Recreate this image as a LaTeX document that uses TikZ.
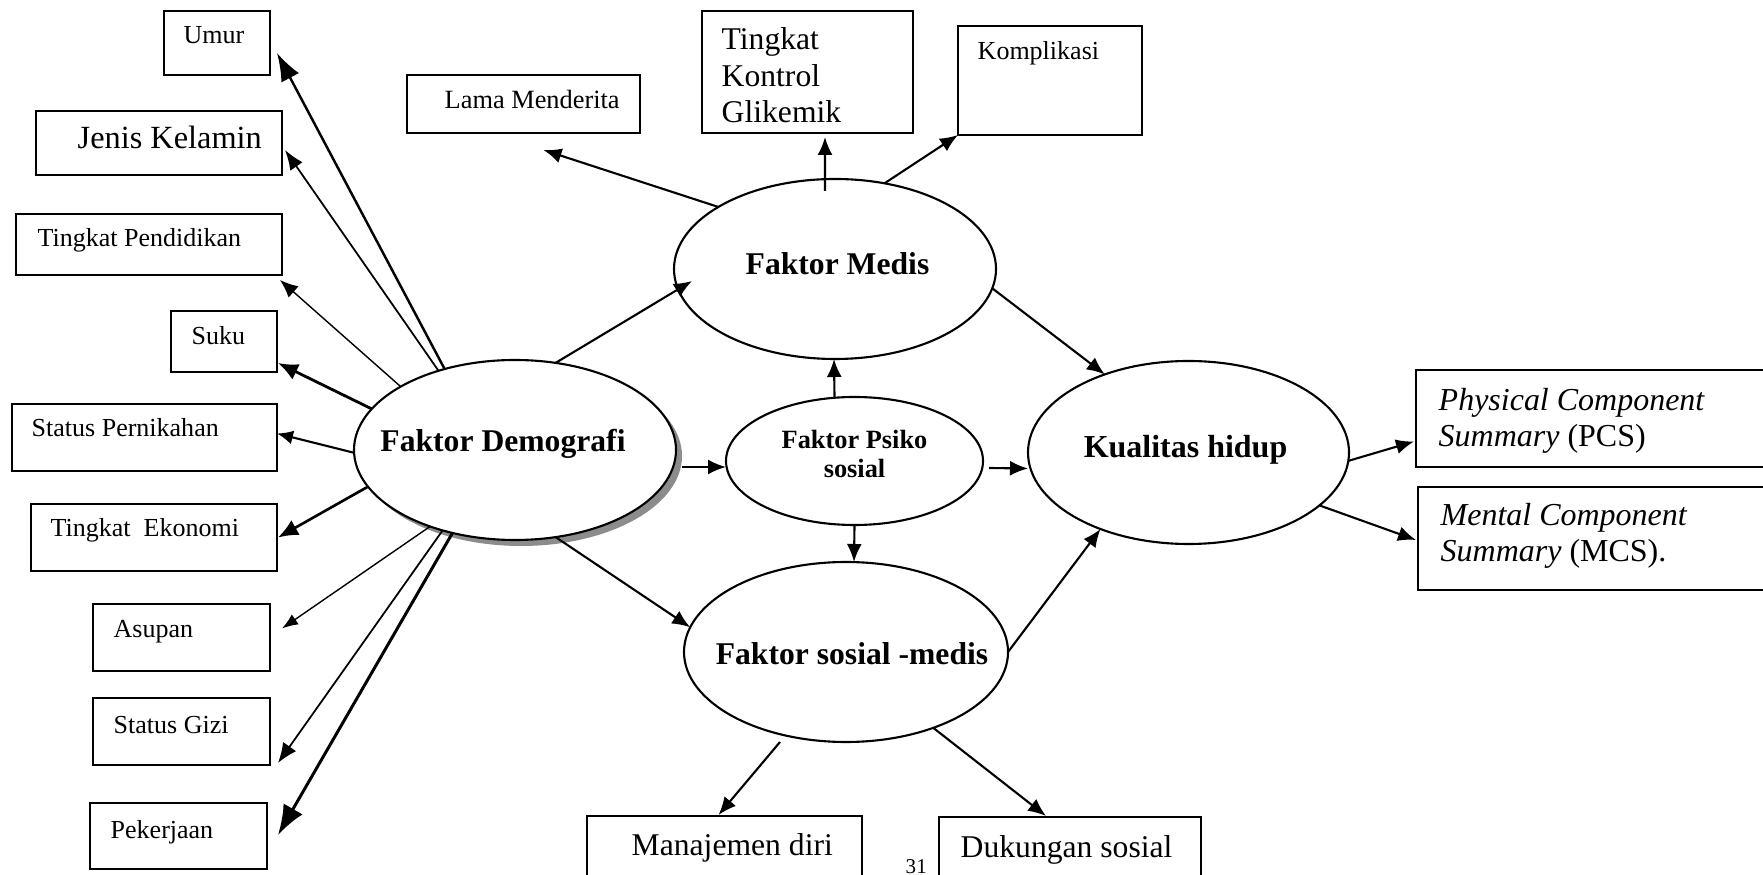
\documentclass[tikz,border=0pt]{standalone}
\usepackage{fontspec}
\setmainfont{Liberation Serif}
\usetikzlibrary{shapes.geometric,arrows.meta,shadows}

\begin{document}
\begin{tikzpicture}[x=0.1mm,y=-0.1mm,
  box/.style={draw,line width=0.55pt,inner sep=0pt,outer sep=0pt},
  oval/.style={draw,ellipse,fill=white,line width=0.6pt,inner sep=0pt,outer sep=0pt},
  txt/.style={anchor=base west,inner sep=0pt,font=\fontsize{7.4}{9}\selectfont},
  big/.style={anchor=base west,inner sep=0pt,align=left,font=\fontsize{9}{10.5}\selectfont},
  head/.style={anchor=base,inner sep=0pt,align=center,font=\bfseries\fontsize{9}{10.5}\selectfont},
  arr/.style={line width=0.6pt,-{Latex[length=1.8mm,width=1.5mm]}}]

\fill[white] (0,0) rectangle (1763,875);
\useasboundingbox (0,0) rectangle (1763,875);

\node[oval,minimum width=32.2mm,minimum height=18mm,
  drop shadow={shadow xshift=0.6mm,shadow yshift=-0.6mm,fill=black!45,opacity=1}] (demo) at (515,450) {};
\node[head] (demotxt) at ([shift={(-12,2)}]demo.center) {Faktor Demografi};

\node[oval,minimum width=32.2mm,minimum height=18mm] (medis) at (835,269) {};
\node[head] (medistxt) at ([shift={(2.5,6)}]medis.center) {Faktor Medis};

\node[oval,minimum width=25.7mm,minimum height=12.8mm] (psiko) at (854.5,461) {};
\node[head,font=\bfseries\fontsize{7.5}{8.5}\selectfont] (psikotxt) at ([shift={(0,17)}]psiko.center) {Faktor Psiko\\sosial};

\node[oval,minimum width=32.1mm,minimum height=18.3mm] (kualitas) at (1188.5,452.5) {};
\node[head,font=\bfseries\fontsize{9.1}{11}\selectfont] (kualitastxt) at ([shift={(-3,5.5)}]kualitas.center) {Kualitas hidup};

\node[oval,minimum width=32.4mm,minimum height=18mm] (sosmed) at (846,652) {};
\node[head] (sosmedtxt) at ([shift={(6,13)}]sosmed.center) {Faktor sosial -medis};

\node[box,minimum width=10.6mm,minimum height=6.4mm] (umur) at (217,43) {};
\node[txt] (umurtxt) at ([shift={(19,33)}]umur.north west) {Umur};
\node[box,minimum width=24.6mm,minimum height=6.4mm] (jenis) at (159,143) {};
\node[txt,font=\fontsize{9.2}{11}\selectfont] (jenistxt) at ([shift={(41,38)}]jenis.north west) {Jenis Kelamin};
\node[box,minimum width=26.6mm,minimum height=6.1mm] (pendidikan) at (149,244.5) {};
\node[txt] (pendidikantxt) at ([shift={(21,33)}]pendidikan.north west) {Tingkat Pendidikan};
\node[box,minimum width=10.6mm,minimum height=6.1mm] (suku) at (224,341.5) {};
\node[txt] (sukutxt) at ([shift={(20,34)}]suku.north west) {Suku};
\node[box,line width=0.75pt,minimum width=26.5mm,minimum height=6.7mm] (nikah) at (144.5,437.5) {};
\node[txt] (nikahtxt) at ([shift={(19,33)}]nikah.north west) {Status Pernikahan};
\node[box,minimum width=24.6mm,minimum height=6.7mm] (ekonomi) at (154,537.5) {};
\node[txt] (ekonomitxt) at ([shift={(19,33)}]ekonomi.north west) {Tingkat\ \ Ekonomi};
\node[box,minimum width=17.7mm,minimum height=6.7mm] (asupan) at (181.5,637.5) {};
\node[txt] (asupantxt) at ([shift={(20,34)}]asupan.north west) {Asupan};
\node[box,minimum width=17.7mm,minimum height=6.7mm] (gizi) at (181.5,731.5) {};
\node[txt] (gizitxt) at ([shift={(20,35)}]gizi.north west) {Status Gizi};
\node[box,line width=0.75pt,minimum width=17.7mm,minimum height=6.6mm] (kerja) at (178.5,836) {};
\node[txt] (kerjatxt) at ([shift={(20,35)}]kerja.north west) {Pekerjaan};

\node[box,minimum width=23.3mm,minimum height=5.8mm] (lama) at (523.5,104) {};
\node[txt,font=\fontsize{7.5}{9}\selectfont] (lamatxt) at ([shift={(37,34)}]lama.north west) {Lama Menderita};
\node[box,line width=0.75pt,minimum width=21.1mm,minimum height=12.2mm] (glikemik) at (807.5,72) {};
\node[big] (glikemiktxt) at ([shift={(19,112)}]glikemik.north west) {Tingkat\\Kontrol\\Glikemik};
\node[box,minimum width=18.4mm,minimum height=10.9mm] (komplikasi) at (1050,80.5) {};
\node[txt] (komplikasitxt) at ([shift={(19,34)}]komplikasi.north west) {Komplikasi};

\node[box,minimum width=37.4mm,minimum height=9.7mm] (pcs) at (1603,418.5) {};
\node[big,font=\fontsize{9.1}{10.5}\selectfont] (pcstxt) at ([shift={(22,77)}]pcs.north west) {\textit{Physical Component}\\\textit{Summary} (PCS)};
\node[box,minimum width=37.2mm,minimum height=10.3mm] (mcs) at (1604,538.5) {};
\node[big,font=\fontsize{9.1}{10.5}\selectfont] (mcstxt) at ([shift={(22,75)}]mcs.north west) {\textit{Mental Component}\\\textit{Summary} (MCS).};

\node[box,minimum width=27.5mm,minimum height=8.4mm] (manajemen) at (724.5,858) {};
\node[big] (manajementxt) at ([shift={(44,39)}]manajemen.north west) {Manajemen diri};
\node[box,minimum width=26.2mm,minimum height=8.3mm] (dukungan) at (1070,858.5) {};
\node[big] (dukungantxt) at ([shift={(21,40)}]dukungan.north west) {Dukungan sosial};

\node[txt,font=\fontsize{6}{7}\selectfont] (halaman) at (905,873) {31};

\draw[arr,line width=0.7pt,-{Latex[length=2.8mm,width=2mm]}] (demo.131.5) -- ([shift={(7,10)}]umur.east);
\draw[arr,line width=0.5pt,-{Latex[length=2mm,width=1.5mm]}] (demo.134) -- ([shift={(3,7)}]jenis.east);
\draw[arr,line width=0.4pt] (demo.151) -- ([shift={(-2,5)}]pendidikan.south east);
\draw[arr,line width=0.8pt,-{Latex[length=2mm,width=1.7mm]}] (demo.164) -- ([shift={(1,-9)}]suku.south east);
\draw[arr,-{Latex[length=1.6mm,width=1.4mm]}] (demo.181) -- ([shift={(0,-4)}]nikah.east);
\draw[arr,line width=0.75pt,-{Latex[length=2mm,width=1.7mm]}] (demo.194) -- ([shift={(1,0)}]ekonomi.east);
\draw[arr,line width=0.4pt,-{Latex[length=1.6mm,width=1.2mm]}] (demo.222) -- ([shift={(12,-9)}]asupan.east);
\draw[arr,line width=0.5pt,-{Latex[length=2mm,width=1.6mm]}] (demo.228) -- ([shift={(8,-2)}]gizi.south east);
\draw[arr,line width=0.85pt,-{Latex[length=3mm,width=2.2mm]}] (demo.233) -- ([shift={(11,-1)}]kerja.east);

\draw[arr] (medis.152) -- ([shift={(20,17)}]lama.south);
\draw[arr] ([shift={(-10,12)}]medis.north) -- ([shift={(17.5,4)}]glikemik.south);
\draw[arr] (medis.60) -- (komplikasi.south west);
\draw[arr] (demo.65) -- ([shift={(18,12)}]medis.west);
\draw[arr] (demo.295) -- (sosmed.171);
\draw[arr] ([shift={(6,17)}]demo.east) -- ([shift={(0,6)}]psiko.west);
\draw[arr] ([shift={(-20,0)}]psiko.north) -- ([shift={(-1,0)}]medis.south);
\draw[arr] (psiko.south) -- ([shift={(8,0)}]sosmed.north);
\draw[arr] ([shift={(6,7)}]psiko.east) -- ([shift={(0,16)}]kualitas.west);
\draw[arr] (medis.353) -- (kualitas.137);
\draw[arr] (sosmed.east) -- (kualitas.221);
\draw[arr] (kualitas.357) -- ([shift={(-2,23)}]pcs.west);
\draw[arr] (kualitas.338) -- ([shift={(-2,1.5)}]mcs.west);
\draw[arr] ([shift={(-66,0)}]sosmed.south) -- ([shift={(-6,-1)}]manajemen.north);
\draw[arr] (sosmed.319) -- ([shift={(-24,-1)}]dukungan.north);

\end{tikzpicture}
\end{document}
